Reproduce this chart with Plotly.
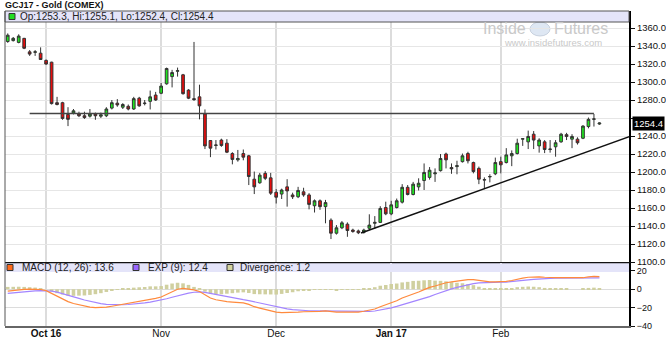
import pandas as pd
import plotly.graph_objects as go

# ---------------- data ----------------
holidays = ["2016-11-24", "2016-12-26", "2017-01-02", "2017-01-16", "2017-02-20"]
dates = [d.strftime("%Y-%m-%d") for d in pd.bdate_range("2016-09-22", "2017-02-28")
         if d.strftime("%Y-%m-%d") not in holidays]

opens = [1345.0, 1346.0, 1344.0, 1348.5, 1333.5, 1333.0, 1332.0, 1324.0, 1322.0, 1277.0,
         1277.0, 1264.0, 1265.5, 1264.5, 1262.5, 1262.0, 1264.5, 1262.0, 1262.5, 1271.0,
         1276.5, 1272.0, 1273.0, 1270.0, 1282.0, 1276.0, 1278.5, 1285.5, 1287.5, 1298.0,
         1306.0, 1312.0, 1308.0, 1291.0, 1281.5, 1283.5, 1264.5, 1235.0, 1229.5, 1235.5,
         1232.0, 1220.5, 1213.5, 1220.5, 1218.0, 1192.0, 1188.0, 1198.5, 1193.5, 1177.5,
         1175.5, 1183.5, 1174.5, 1172.5, 1178.0, 1174.5, 1162.5, 1168.0, 1161.5, 1146.5,
         1132.0, 1138.0, 1142.0, 1135.5, 1134.5, 1133.0, 1137.5, 1143.0, 1144.0, 1160.5,
         1153.5, 1160.5, 1166.5, 1183.0, 1175.0, 1183.5, 1190.5, 1194.0, 1198.0, 1201.5,
         1220.0, 1205.0, 1206.0, 1211.5, 1220.5, 1210.5, 1204.0, 1191.0, 1194.5, 1198.0,
         1211.5, 1210.5, 1218.0, 1220.5, 1236.5, 1233.5, 1242.0, 1229.0, 1233.5, 1225.0,
         1228.0, 1233.5, 1241.5, 1236.5, 1236.5, 1237.5, 1250.5, 1258.5, 1253.3]
highs = [1354.0, 1350.0, 1353.0, 1349.0, 1335.5, 1335.5, 1338.5, 1325.0, 1322.5, 1283.5,
         1278.0, 1272.0, 1270.0, 1267.0, 1267.0, 1270.0, 1266.0, 1266.0, 1272.0, 1280.0,
         1281.0, 1276.5, 1275.0, 1283.5, 1283.5, 1280.0, 1290.5, 1289.0, 1299.0, 1316.0,
         1313.5, 1316.0, 1309.0, 1292.0, 1344.5, 1297.0, 1269.5, 1235.5, 1235.5, 1237.0,
         1236.5, 1222.0, 1224.5, 1225.0, 1219.0, 1200.5, 1199.0, 1201.0, 1199.0, 1181.0,
         1181.5, 1192.0, 1177.0, 1183.5, 1182.5, 1176.5, 1169.5, 1169.5, 1169.0, 1148.5,
         1141.0, 1145.5, 1144.0, 1137.0, 1136.0, 1137.0, 1153.0, 1151.0, 1162.0, 1167.0,
         1168.0, 1170.5, 1186.5, 1185.5, 1189.0, 1193.0, 1209.5, 1205.5, 1204.0, 1220.0,
         1221.5, 1209.5, 1212.5, 1220.5, 1222.5, 1211.5, 1206.0, 1194.0, 1197.5, 1216.0,
         1217.0, 1226.5, 1224.0, 1237.0, 1237.5, 1246.0, 1245.5, 1237.5, 1235.5, 1235.5,
         1235.5, 1243.5, 1243.5, 1242.0, 1238.5, 1252.0, 1260.5, 1264.5, 1255.1]
lows = [1343.5, 1345.0, 1343.0, 1336.5, 1329.0, 1329.0, 1324.5, 1319.0, 1275.0, 1274.0,
        1258.0, 1251.0, 1264.0, 1261.0, 1259.0, 1260.5, 1258.0, 1260.0, 1261.0, 1269.5,
        1272.5, 1270.0, 1268.5, 1269.0, 1272.5, 1274.0, 1269.5, 1279.0, 1286.5, 1297.0,
        1294.0, 1306.0, 1286.0, 1281.0, 1279.0, 1258.5, 1225.5, 1216.5, 1225.0, 1228.0,
        1221.0, 1208.5, 1211.5, 1213.0, 1185.5, 1175.5, 1187.0, 1191.0, 1174.5, 1165.0,
        1170.0, 1161.5, 1170.0, 1171.0, 1172.5, 1158.5, 1155.0, 1158.0, 1143.0, 1125.5,
        1130.5, 1136.5, 1128.0, 1132.5, 1131.0, 1131.5, 1135.5, 1137.0, 1143.5, 1152.0,
        1152.0, 1159.5, 1165.0, 1174.0, 1174.0, 1179.5, 1180.0, 1191.5, 1189.0, 1200.5,
        1204.0, 1198.0, 1197.5, 1210.5, 1209.5, 1198.5, 1186.5, 1181.0, 1188.5, 1196.5,
        1198.5, 1209.5, 1206.5, 1219.5, 1229.0, 1225.5, 1225.5, 1221.5, 1221.0, 1221.5,
        1217.0, 1232.5, 1235.5, 1226.5, 1230.5, 1236.5, 1248.5, 1250.5, 1252.4]
closes = [1352.0, 1348.5, 1351.0, 1337.5, 1331.0, 1333.5, 1325.0, 1320.0, 1276.0, 1275.0,
          1259.5, 1258.5, 1268.0, 1262.5, 1260.5, 1264.5, 1262.5, 1263.5, 1270.0, 1277.0,
          1274.5, 1275.0, 1270.0, 1281.5, 1273.5, 1276.5, 1283.5, 1280.0, 1295.5, 1315.0,
          1310.5, 1312.5, 1287.0, 1282.0, 1280.5, 1273.5, 1229.0, 1226.5, 1230.0, 1229.5,
          1222.0, 1214.0, 1215.0, 1216.5, 1195.0, 1183.5, 1196.5, 1193.0, 1176.5, 1172.0,
          1180.0, 1179.0, 1172.5, 1179.5, 1174.5, 1164.0, 1168.0, 1161.5, 1166.0, 1132.0,
          1138.0, 1143.5, 1135.0, 1134.0, 1132.5, 1135.5, 1141.0, 1144.0, 1159.5, 1153.5,
          1163.5, 1168.0, 1183.0, 1175.0, 1186.5, 1187.5, 1199.5, 1202.0, 1199.0, 1215.0,
          1213.5, 1203.5, 1207.0, 1218.0, 1212.5, 1200.5, 1192.0, 1191.5, 1195.0, 1210.5,
          1208.0, 1219.0, 1220.5, 1232.0, 1237.0, 1239.5, 1235.5, 1235.5, 1225.0, 1225.5,
          1232.5, 1242.0, 1239.5, 1239.5, 1232.5, 1251.0, 1258.5, 1259.0, 1254.4]

macd_line = [-2.0, -1.2, -0.5, -0.2, 0.0, 0.0, -0.3, -1.5, -4.5, -7.5,
             -10.5, -13.5, -15.5, -17.0, -18.5, -19.5, -20.0, -20.0, -19.5, -18.5,
             -17.5, -16.5, -15.5, -14.5, -13.5, -12.5, -11.0, -10.0, -8.5, -5.5,
             -2.5, 0.0, 1.0, 0.5, -0.8, -2.5, -6.0, -9.5, -11.5, -12.8,
             -13.5, -14.0, -14.3, -14.8, -16.5, -19.0, -20.5, -22.0, -23.5, -25.0,
             -25.5, -25.5, -25.5, -25.0, -24.5, -24.5, -24.0, -24.0, -23.5, -24.5,
             -25.0, -25.0, -25.0, -25.0, -25.0, -24.0, -23.0, -21.5, -19.0, -17.0,
             -14.5, -12.5, -9.5, -7.5, -5.0, -3.0, -0.5, 2.0, 3.5, 5.5,
             7.0, 8.0, 9.0, 10.0, 10.5, 10.5, 9.5, 8.5, 8.0, 8.0,
             8.0, 8.5, 9.5, 11.0, 12.0, 13.0, 13.5, 13.5, 13.0, 12.5,
             12.5, 12.5, 12.5, 12.0, 12.0, 12.5, 13.5, 14.0, 13.6]
exp_line = [-4.5, -3.8, -3.2, -2.7, -2.2, -1.8, -1.5, -1.5, -2.1, -3.2,
            -4.7, -6.5, -8.3, -10.0, -11.7, -13.3, -14.6, -15.7, -16.5, -16.9,
            -17.0, -16.9, -16.6, -16.2, -15.6, -14.9, -14.1, -13.1, -11.9, -10.4,
            -8.7, -7.0, -5.4, -4.2, -3.3, -2.8, -3.4, -4.6, -5.9, -7.3,
            -8.6, -9.7, -10.6, -11.4, -12.4, -13.7, -15.0, -16.4, -17.8, -19.2,
            -20.4, -21.4, -22.2, -22.8, -23.1, -23.4, -23.5, -23.6, -23.6, -23.8,
            -24.0, -24.2, -24.4, -24.5, -24.6, -24.5, -24.2, -23.7, -22.8, -21.6,
            -20.2, -18.7, -16.9, -15.5, -14.0, -12.2, -10.2, -8.0, -5.8, -3.6,
            -1.6, 0.3, 2.0, 3.5, 5.0, 6.1, 6.8, 7.2, 7.4, 7.5,
            7.6, 7.8, 8.2, 8.8, 9.4, 10.1, 10.8, 11.3, 11.6, 11.8,
            11.9, 12.0, 12.0, 12.0, 12.0, 12.0, 12.1, 12.3, 12.4]
divergence = [2.5, 2.6, 2.7, 2.5, 2.2, 1.8, 1.2, 0.0, -2.4, -4.3,
              -5.8, -7.0, -7.2, -7.0, -6.8, -6.2, -5.4, -4.3, -3.0, -1.6,
              -0.5, 0.4, 1.1, 1.7, 2.1, 2.4, 3.1, 3.1, 3.4, 4.9,
              6.2, 7.0, 6.4, 4.7, 2.5, 0.3, -2.6, -4.9, -5.6, -5.5,
              -4.9, -4.3, -3.7, -3.4, -4.1, -5.3, -5.5, -5.6, -5.7, -5.8,
              -5.1, -4.1, -3.3, -2.2, -1.4, -1.1, -0.5, -0.4, 0.1, -0.7,
              -1.0, -0.8, -0.6, -0.5, -0.4, 0.5, 1.2, 2.2, 3.8, 4.6,
              5.7, 6.2, 7.4, 8.0, 9.0, 9.2, 9.7, 10.0, 9.3, 9.1,
              8.6, 7.7, 7.0, 6.5, 5.5, 4.4, 2.7, 1.3, 0.6, 0.5,
              0.4, 0.7, 1.3, 2.2, 2.6, 2.9, 2.7, 2.2, 1.4, 0.7,
              0.6, 0.5, 0.5, 0.0, 0.0, 0.5, 1.4, 1.7, 1.2]

month_ticks = ["2016-10-03", "2016-11-01", "2016-12-01", "2017-01-03", "2017-02-01"]
month_labels = ["<b>Oct 16</b>", "Nov", "Dec", "<b>Jan 17</b>", "Feb"]
price_ticks = [1100, 1120, 1140, 1160, 1180, 1200, 1220, 1240, 1260, 1280, 1300, 1320, 1340, 1360]
price_labels = ["" if v == 1260 else "%.1f" % v for v in price_ticks]   # 1260 hidden by last-price box
macd_ticks = [20, 0, -20, -40]

resist_level = 1265.0
resist_from, resist_to = "2016-09-28", "2017-02-27"
trend_x = [64.5, 116.3]          # bar positions
trend_y = [1132.2, 1245.5]

title_text = "GCJ17 - Gold (COMEX)"
info_text = "Op:1253.3, Hi:1255.1, Lo:1252.4, Cl:1254.4"
last_price = 1254.4
legend_items = [("MACD (12, 26): 13.6", "#ff6a1a"), ("EXP (9): 12.4", "#9966ff"), ("Divergence: 1.2", "#d4d4a0")]

# ---------------- layout geometry (pixels) ----------------
W, H = 666, 339
L, R, T, B = 5, 37, 11, 13
PW, PH = W - L - R, H - T - B


def px(p):
    return (p - L) / PW


def py(p):
    return (H - B - p) / PH


FONT = "Liberation Sans, Arial, sans-serif"

fig = go.Figure()
fig.add_trace(go.Candlestick(
    x=dates, open=opens, high=highs, low=lows, close=closes,
    xaxis="x", yaxis="y", whiskerwidth=0, showlegend=False, hoverinfo="skip",
    increasing=dict(fillcolor="#1fe61f", line=dict(color="#333333", width=1)),
    decreasing=dict(fillcolor="#e80c0c", line=dict(color="#333333", width=1)),
))
fig.add_trace(go.Bar(x=dates, y=divergence, xaxis="x2", yaxis="y2", showlegend=False,
                     marker=dict(color="#d0d0a0", line=dict(width=0)), hoverinfo="skip"))
fig.add_trace(go.Scatter(x=dates, y=exp_line, xaxis="x2", yaxis="y2", mode="lines", showlegend=False,
                         line=dict(color="#a385ff", width=1.2), hoverinfo="skip"))
fig.add_trace(go.Scatter(x=dates, y=macd_line, xaxis="x2", yaxis="y2", mode="lines", showlegend=False,
                         line=dict(color="#ff8a3d", width=1.2), hoverinfo="skip"))

xr = [-0.5, 113.4]
fig.update_layout(
    width=W, height=H, margin=dict(l=L, r=R, t=T, b=B, autoexpand=False),
    paper_bgcolor="white", plot_bgcolor="white", bargap=0.35,
    font=dict(family=FONT, size=9, color="#111"),
    xaxis=dict(type="category", domain=[0, 1], anchor="y", range=xr, rangeslider=dict(visible=False),
               tickvals=month_ticks, ticktext=month_labels, showticklabels=False, ticks="",
               showgrid=True, gridcolor="#dcdcdc", gridwidth=1.5, automargin=False,
               showline=True, linecolor="#111", linewidth=2),
    xaxis2=dict(type="category", matches="x", anchor="y2", range=xr,
                tickvals=month_ticks, ticktext=month_labels, ticks="", ticklabelstandoff=-3,
                tickfont=dict(size=10, color="#111"), automargin=False,
                showgrid=True, gridcolor="#dcdcdc", gridwidth=1.5,
                showline=True, linecolor="#666", linewidth=1.5),
    yaxis=dict(domain=[py(262), 1], range=[1100, 1100 + (262 - T) / 0.9], side="right",
               tickvals=price_ticks, ticktext=price_labels, ticks="outside", ticklen=4, tickcolor="#111",
               tickfont=dict(size=9.5), showgrid=True, gridcolor="#e6e6e6", gridwidth=1, zeroline=False,
               showline=True, linecolor="#000", linewidth=2, automargin=False),
    yaxis2=dict(domain=[0, py(263)], range=[-40, 28.5], side="right",
                tickvals=macd_ticks, ticks="outside", ticklen=4, tickcolor="#111",
                tickfont=dict(size=9), showgrid=True, gridcolor="#dcdcdc", gridwidth=1, zeroline=False,
                showline=True, linecolor="#000", linewidth=2, automargin=False),
)

shapes = [
    # info bar
    dict(type="rect", xref="paper", yref="paper", x0=0, x1=1, y0=py(22), y1=py(11),
         fillcolor="#e4e4f9", line=dict(color="#555", width=1), layer="above"),
    # MACD legend bar
    dict(type="rect", xref="paper", yref="paper", x0=0, x1=1, y0=py(272), y1=py(263.2),
         fillcolor="#e4e4f9", line=dict(width=0), layer="above"),
    # left border
    dict(type="line", xref="paper", yref="paper", x0=0, x1=0, y0=0, y1=1,
         line=dict(color="#555", width=1), layer="above"),
    # resistance line
    dict(type="line", xref="x", yref="y", x0=resist_from, x1=resist_to, y0=resist_level, y1=resist_level,
         line=dict(color="#444", width=1.6), layer="above"),
    # trend line
    dict(type="line", xref="x", yref="y", x0=trend_x[0], x1=trend_x[1], y0=trend_y[0], y1=trend_y[1],
         line=dict(color="#111", width=1.6), layer="above"),
    # info square
    dict(type="rect", xref="paper", yref="paper", x0=px(9), x1=px(15), y0=py(19.5), y1=py(13.5),
         fillcolor="#22dd22", line=dict(color="#333", width=1), layer="above"),
    # watermark circle
    dict(type="circle", xref="paper", yref="paper", x0=px(530), x1=px(550), y0=py(36), y1=py(22),
         fillcolor="rgba(200,215,235,0.6)", line=dict(color="rgba(190,200,215,0.8)", width=1), layer="below"),
]

annotations = [
    dict(xref="paper", yref="paper", x=px(3), y=py(5), xanchor="left", yanchor="middle",
         text="<b>%s</b>" % title_text, showarrow=False, font=dict(size=9, color="#111")),
    dict(xref="paper", yref="paper", x=px(18), y=py(16.5), xanchor="left", yanchor="middle",
         text=info_text, showarrow=False, font=dict(size=10, color="#222")),
    dict(xref="paper", yref="y", x=1, xshift=3, y=last_price, xanchor="left", yanchor="middle",
         text=str(last_price), showarrow=False, bgcolor="#000", borderpad=1,
         font=dict(size=9.5, color="#fff")),
    dict(xref="paper", yref="paper", x=px(528), y=py(28.5), xanchor="right", yanchor="middle",
         text="Inside", showarrow=False, font=dict(size=16, color="#c9c9c9")),
    dict(xref="paper", yref="paper", x=px(552), y=py(28.5), xanchor="left", yanchor="middle",
         text="Futures", showarrow=False, font=dict(size=16, color="#c9c9c9")),
    dict(xref="paper", yref="paper", x=px(553), y=py(42.5), xanchor="center", yanchor="middle",
         text="www.insidefutures.com", showarrow=False, font=dict(size=9.5, color="#c9c9c9")),
]

leg_sq_x = [7, 133, 227]
leg_tx_x = [20, 146, 238]
for (label, color), sx, tx in zip(legend_items, leg_sq_x, leg_tx_x):
    shapes.append(dict(type="rect", xref="paper", yref="paper", x0=px(sx), x1=px(sx + 6),
                       y0=py(270.5), y1=py(264.5), fillcolor=color, line=dict(color="#333", width=1),
                       layer="above"))
    annotations.append(dict(xref="paper", yref="paper", x=px(tx), y=py(267.8), xanchor="left",
                            yanchor="middle", text=label, showarrow=False,
                            font=dict(size=10, color="#222")))

fig.update_layout(shapes=shapes, annotations=annotations)
fig.write_html("out.html")
